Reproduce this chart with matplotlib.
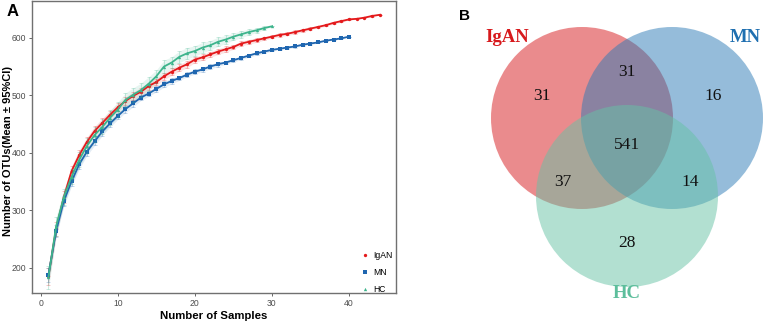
import numpy as np
import matplotlib
matplotlib.use("Agg")
import matplotlib.pyplot as plt
from matplotlib.patches import Circle

plt.rcParams["font.family"] = ["Liberation Sans", "DejaVu Sans"]

# ---- panel A data: rarefaction curves (mean and 95% CI half width)
igan_mean = [185, 268, 323, 368, 396, 419, 438, 452, 466, 479, 490, 499, 506, 516, 523,
             533, 541, 548, 554, 562, 566, 571, 576, 580, 584, 590, 593, 596, 599, 602,
             605, 607, 610, 613, 616, 619, 622, 626, 629, 632, 633, 635, 638, 640]
igan_ci = [15, 12, 10, 9, 9, 8, 8, 8, 7, 7, 7, 7, 7, 6, 6, 6, 6, 6, 6, 5, 5, 5, 5, 5,
           4, 4, 4, 4, 3, 3, 3, 3, 3, 3, 2, 2, 2, 2, 2, 1, 1, 1, 1, 0]
mn_mean = [187, 264, 316, 350, 380, 402, 420, 437, 451, 464, 476, 486, 496, 503, 511,
           519, 525, 530, 536, 541, 545, 550, 554, 557, 561, 565, 569, 573, 576, 579,
           581, 583, 585, 588, 590, 592, 595, 597, 599, 602]
mn_ci = [12, 10, 9, 8, 8, 7, 7, 7, 6, 6, 6, 6, 5, 5, 5, 5, 5, 4, 4, 4, 4, 4, 4, 3,
         3, 3, 3, 3, 3, 2, 2, 2, 2, 2, 2, 1, 1, 1, 1, 0]
hc_mean = [183, 272, 323, 358, 388, 412, 431, 445, 461, 475, 492, 501, 509, 520, 533,
           550, 557, 567, 573, 577, 583, 587, 593, 597, 602, 606, 610, 613, 617, 620]
hc_ci = [20, 16, 14, 13, 13, 13, 13, 13, 13, 13, 12, 12, 12, 12, 11, 11, 10, 10, 10,
         9, 9, 8, 8, 7, 6, 6, 5, 4, 3, 0]

groups = ["IgAN", "MN", "HC"]
colors = ["#E41A1C", "#1F66B0", "#3DB48C"]
markers = ["o", "s", "^"]

# ---- panel B data: Venn counts
venn_only = {"IgAN": 31, "MN": 16, "HC": 28}
venn_igan_mn = 31
venn_igan_hc = 37
venn_mn_hc = 14
venn_all = 541
venn_fill = ["#D7191C", "#2C7BB6", "#66C2A5"]
venn_text = ["#D7191C", "#1F6FB0", "#5DBE9C"]

W, H = 768, 330
fig = plt.figure(figsize=(W / 100, H / 100), dpi=100)

ax = fig.add_axes([32 / W, 1 - 293 / H, 364 / W, 292 / H])
series = [(igan_mean, igan_ci), (mn_mean, mn_ci), (hc_mean, hc_ci)]
for (m, c), name, col, mk in zip(series, groups, colors, markers):
    m = np.array(m, float)
    c = np.array(c, float)
    x = np.arange(1, len(m) + 1)
    ax.fill_between(x, m - c, m + c, color=col, alpha=0.12, lw=0)
    ax.errorbar(x, m, yerr=c, fmt="none", ecolor=col, alpha=0.3, elinewidth=0.6,
                capsize=1.2, capthick=0.6)
    ax.plot(x, m, color=col, lw=1.3, marker=mk, ms=2.4, mew=0, label=name)

ax.set_xlim(-1.13, 46.1)
ax.set_ylim(156, 664)
ax.set_xticks([0, 10, 20, 30, 40])
ax.set_yticks([200, 300, 400, 500, 600])
ax.tick_params(labelsize=6.2, colors="#4d4d4d", length=2.2, width=0.6, pad=2)
for s in ax.spines.values():
    s.set_color("#707070")
    s.set_linewidth(1.0)
ax.set_xlabel("Number of Samples", fontsize=8.2, fontweight="bold")
ax.set_ylabel("Number of OTUs(Mean ± 95%CI)", fontsize=8.0, fontweight="bold")
ax.xaxis.set_label_coords(0.5, -0.062)
ax.yaxis.set_label_coords(-0.053, 0.485)
leg = ax.legend(loc="lower right", bbox_to_anchor=(1.0, -0.015), frameon=False,
                fontsize=6.2, handlelength=0.6, handletextpad=0.6, labelspacing=0.95,
                borderaxespad=0.0)
for h in leg.legend_handles:
    h.set_linestyle("none")
fig.text(7 / W, 1 - 11 / H, "A", fontsize=12, fontweight="bold", va="center", ha="left")

# ---- panel B: Venn diagram in pixel-like coordinates
vx = fig.add_axes([400 / W, 0, 368 / W, 1])
vx.set_xlim(400, 768)
vx.set_ylim(330, 0)
vx.axis("off")
r = 91
centers = [(582, 118), (672, 118), (627, 196)]
for (cx, cy), col in zip(centers, venn_fill):
    vx.add_patch(Circle((cx, cy), r, facecolor=col, alpha=0.5, lw=0))

serif = ["Liberation Serif", "DejaVu Serif"]
num_style = dict(fontsize=12.5, family=serif, ha="center", va="center", color="#111111")
(ax_, ay), (bx, by), (hx, hy) = centers
vx.text(ax_ - 40, 96, str(venn_only["IgAN"]), **num_style)
vx.text(bx + 41, 96, str(venn_only["MN"]), **num_style)
vx.text(hx, 243, str(venn_only["HC"]), **num_style)
vx.text((ax_ + bx) / 2, 72, str(venn_igan_mn), **num_style)
vx.text(563, 182, str(venn_igan_hc), **num_style)
vx.text(690, 182, str(venn_mn_hc), **num_style)
vx.text(hx, 145, str(venn_all), **num_style)

lab_style = dict(fontsize=13.5, family=serif, fontweight="bold", ha="center", va="center")
vx.text(507, 38, groups[0], color=venn_text[0], **lab_style)
vx.text(745, 38, groups[1], color=venn_text[1], **lab_style)
vx.text(627, 293, groups[2], color=venn_text[2], **lab_style)
fig.text(465 / W, 1 - 16 / H, "B", fontsize=11, fontweight="bold", va="center", ha="center")

fig.savefig("out.png", dpi=100)
